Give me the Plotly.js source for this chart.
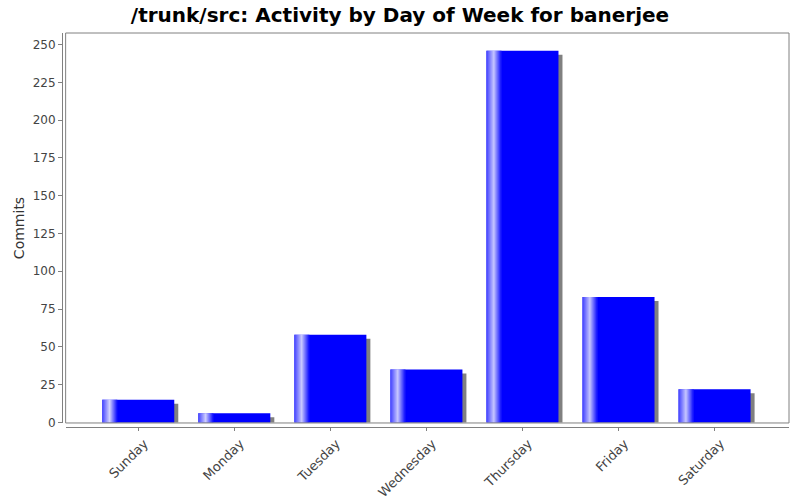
<!DOCTYPE html>
<html>
<head>
<meta charset="utf-8">
<script src="https://cdn.plot.ly/plotly-3.0.1.min.js"></script>
<style>html,body{margin:0;padding:0;background:#fff;}#chart{width:800px;height:500px;}</style>
</head>
<body>
<div id="chart"></div>
<script>
const days = ["Sunday", "Monday", "Tuesday", "Wednesday", "Thursday", "Friday", "Saturday"];
const commits = [15, 6, 58, 35, 246, 83, 22];
const yTicks = [0, 25, 50, 75, 100, 125, 150, 175, 200, 225, 250];

const barWidth = 0.75;
const pxX = 1 / 96;      // data units per pixel along x
const pxY = 1 / 1.511;   // data units per pixel along y
const xIdx = days.map((d, i) => i);

const traces = [];
// shadow
traces.push({
  type: 'bar', x: xIdx, y: commits.map(v => Math.max(v - 4 * pxY, 0)),
  width: barWidth, offset: -barWidth / 2 + 4 * pxX,
  marker: { color: '#808080', line: { width: 0 } }, hoverinfo: 'skip', showlegend: false
});
// main bar
traces.push({
  type: 'bar', x: xIdx, y: commits, width: barWidth, offset: -barWidth / 2,
  marker: { color: '#0000ff', line: { width: 0 } }, showlegend: false
});
// highlight stripes (gradient emulation)
function mix(a, b, t) {
  return [0, 1, 2].map(k => Math.round(a[k] + (b[k] - a[k]) * t));
}
const edge = [90, 90, 255], white = [255, 255, 255], blue = [0, 0, 255];
const nStripes = 15;
for (let i = 0; i < nStripes; i++) {
  let c;
  if (i < 8) c = mix(edge, white, i / 7);
  else c = mix(white, blue, (i - 7) / 8);
  traces.push({
    type: 'bar', x: xIdx, y: commits, width: pxX * 1.05,
    offset: -barWidth / 2 + i * pxX,
    marker: { color: 'rgb(' + c.join(',') + ')', line: { width: 0 } },
    hoverinfo: 'skip', showlegend: false
  });
}

const layout = {
  width: 800, height: 500,
  paper_bgcolor: '#ffffff', plot_bgcolor: '#ffffff',
  margin: { l: 62, r: 11, t: 33, b: 73 },
  barmode: 'overlay',
  showlegend: false,
  font: { family: 'DejaVu Sans', color: '#444444' },
  title: {
    text: '<b>/trunk/src: Activity by Day of Week for banerjee</b>',
    font: { family: 'DejaVu Sans', size: 20, color: '#000000' },
    x: 0.5, xanchor: 'center', xref: 'container',
    y: 1 - 15 / 500, yanchor: 'middle', yref: 'container'
  },
  xaxis: {
    domain: [0.005, 1], anchor: 'free', position: 0,
    range: [-0.756, 6.775],
    tickmode: 'array', tickvals: xIdx, ticktext: days,
    tickangle: -45, ticks: 'outside', ticklen: 3, tickcolor: '#808080',
    ticklabelshift: 6,
    showline: true, linecolor: '#808080', linewidth: 1,
    showgrid: false, zeroline: false,
    tickfont: { family: 'DejaVu Sans', size: 13, color: '#444444' }
  },
  yaxis: {
    domain: [0.0102, 1], anchor: 'free', position: 0,
    range: [-0.4, 257.7],
    tickmode: 'array', tickvals: yTicks,
    ticks: 'outside', ticklen: 4, tickcolor: '#808080',
    showline: true, linecolor: '#808080', linewidth: 1,
    showgrid: false, zeroline: false,
    tickfont: { family: 'DejaVu Sans', size: 12, color: '#444444' },
    title: { text: 'Commits', font: { family: 'DejaVu Sans', size: 14, color: '#333333' }, standoff: 3 }
  },
  shapes: [{
    type: 'rect', xref: 'x domain', yref: 'y domain', x0: 0, x1: 1, y0: 0, y1: 1,
    line: { color: '#808080', width: 1 }, fillcolor: 'rgba(0,0,0,0)', layer: 'above'
  }]
};

Plotly.newPlot('chart', traces, layout, { staticPlot: true, displayModeBar: false });
</script>
</body>
</html>
